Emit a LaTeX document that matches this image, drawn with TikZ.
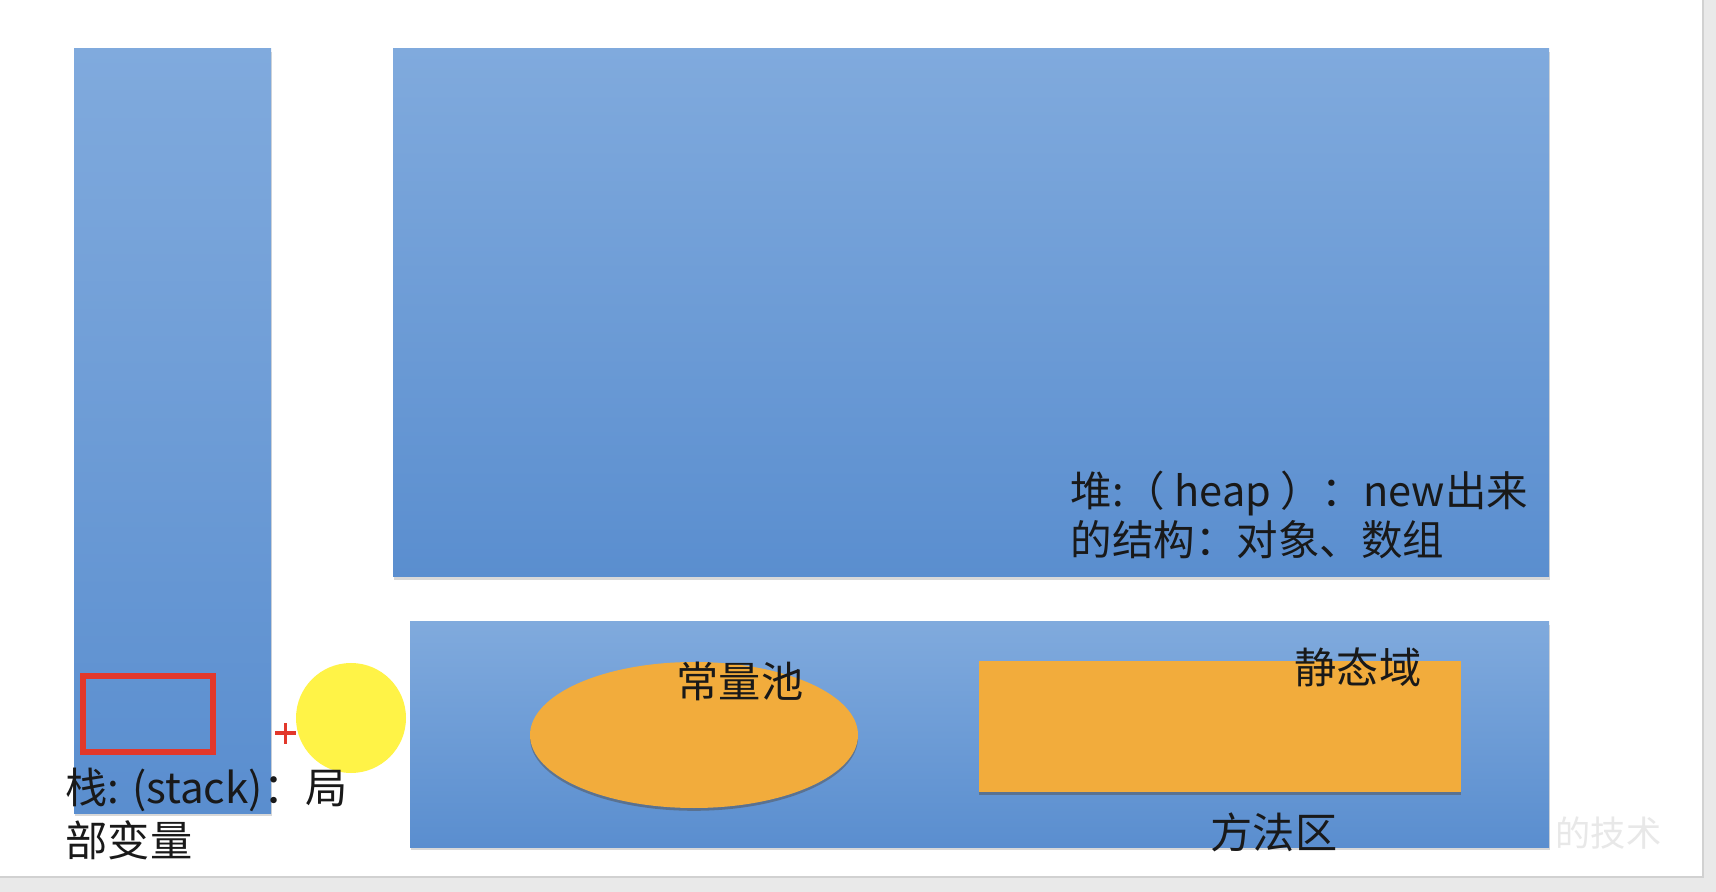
\documentclass[tikz,border=0pt]{standalone}
\usepackage{fontspec}
\usepackage{tikz}
\usetikzlibrary{shadows,positioning}
\newfontfamily\cjk{Noto Sans CJK SC}
\definecolor{memTop}{HTML}{80AADD}
\definecolor{memBot}{HTML}{5A8ECF}
\definecolor{poolOrange}{HTML}{F2AC3C}
\definecolor{markRed}{HTML}{E2382B}
\definecolor{penYellow}{HTML}{FFF347}
\definecolor{pageGray}{HTML}{E9E9E9}

\begin{document}
\begin{tikzpicture}[x=0.01cm, y=-0.01cm,
    area/.style={top color=memTop, bottom color=memBot,
        drop shadow={shadow xshift=0.4pt, shadow yshift=-0.8pt, opacity=0.3}},
    part/.style={fill=poolOrange,
        drop shadow={shadow xshift=0pt, shadow yshift=-0.8pt, opacity=0.35, fill=black!60!brown}},
    lbl/.style={font=\cjk\fontsize{12}{14.8}\selectfont, text=black!90, inner sep=0pt, anchor=base west}]
    \useasboundingbox (0,0) rectangle (1716,892);

    % page and its border
    \fill[pageGray] (0,0) rectangle (1716,892);
    \fill[white] (0,0) rectangle (1703,877);
    \draw[black!18, line width=0.8pt] (1703,0) -- (1703,877) -- (0,877);

    % stack, heap and method area
    \fill[area] (74,49) rectangle (271,813);
    \fill[area] (393,49) rectangle (1549,577);
    \fill[area] (410,622) rectangle (1549,847);

    % constant pool and static field
    \fill[part] (694,735) ellipse [x radius=164, y radius=73];
    \fill[part] (979,661) rectangle (1461,792);

    % red frame in the stack
    \draw[markRed, line width=1.7pt] (83,676) rectangle (213,752);

    % pointer and highlight
    \draw[markRed, line width=0.9pt] (275,733) -- (296,733) (285.5,723) -- (285.5,744);
    \fill[penYellow] (351,718) circle [radius=55];

    % labels (base = last line)
    \node[lbl, align=left] (stackLbl) at (65,856) {栈: (stack)：局\\部变量};
    \node[lbl, align=left, font=\cjk\fontsize{11.8}{14.2}\selectfont] (heapLbl) at (1070,556) {堆:（ heap ）：new出来\\的结构：对象、数组};
    \node[lbl] (poolLbl) at (676,697) {常量池};
    \node[lbl] (staticLbl) at (1294,684) {静态域};
    \node[lbl] (methodLbl) at (1210,848) {方法区};
    \node[lbl, text=black!9, font=\cjk\fontsize{10}{12}\selectfont] (markLbl) at (1555,846) {的技术};
\end{tikzpicture}
\end{document}
